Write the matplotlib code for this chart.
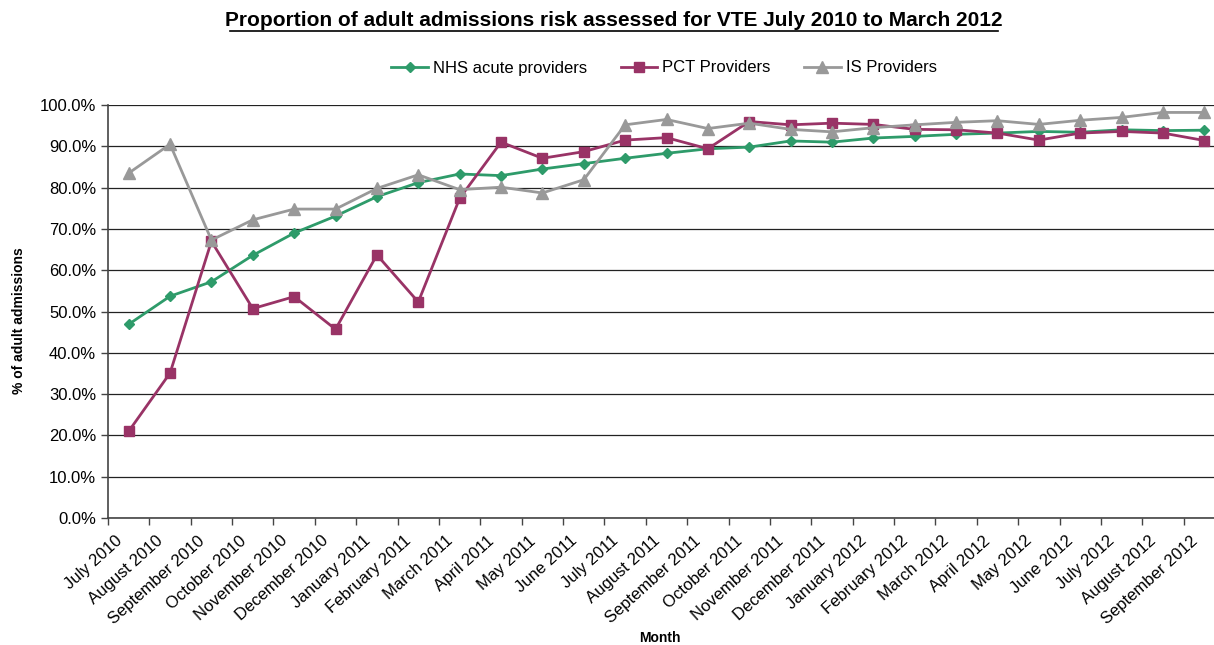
import matplotlib.pyplot as plt
from matplotlib.transforms import ScaledTranslation
import numpy as np

months = ['July 2010', 'August 2010', 'September 2010', 'October 2010', 'November 2010',
          'December 2010', 'January 2011', 'February 2011', 'March 2011', 'April 2011',
          'May 2011', 'June 2011', 'July 2011', 'August 2011', 'September 2011',
          'October 2011', 'November 2011', 'December 2011', 'January 2012', 'February 2012',
          'March 2012', 'April 2012', 'May 2012', 'June 2012', 'July 2012',
          'August 2012', 'September 2012']

nhs_acute = [46.9, 53.7, 57.2, 63.6, 69.0, 73.1, 77.8, 81.2, 83.3, 82.9,
             84.5, 85.8, 87.1, 88.3, 89.4, 89.8, 91.3, 91.0, 92.0, 92.4,
             92.9, 93.2, 93.6, 93.4, 94.0, 93.8, 93.9]
pct = [21.0, 35.1, 67.0, 50.7, 53.6, 45.7, 63.7, 52.3, 77.4, 91.0,
       87.1, 88.7, 91.5, 92.1, 89.4, 96.0, 95.2, 95.6, 95.3, 94.1,
       94.0, 93.2, 91.5, 93.2, 93.6, 93.2, 91.4]
is_prov = [83.5, 90.5, 67.3, 72.2, 74.8, 74.8, 79.8, 83.1, 79.5, 80.1,
           78.7, 81.9, 95.2, 96.5, 94.3, 95.6, 94.1, 93.5, 94.5, 95.2,
           95.8, 96.2, 95.3, 96.3, 97.0, 98.2, 98.2]

plt.rcParams['font.family'] = ['Liberation Sans', 'DejaVu Sans']

fig = plt.figure(figsize=(12.14, 6.45), dpi=100)
ax = fig.add_axes([108 / 1214, 127 / 645, 1117 / 1214, 413 / 645])

x = np.arange(len(months))
ax.plot(x, nhs_acute, color='#2E9B6A', lw=2, marker='D', ms=5.5, label='NHS acute providers')
ax.plot(x, pct, color='#993366', lw=2, marker='s', ms=7, label='PCT Providers')
ax.plot(x, is_prov, color='#999999', lw=2, marker='^', ms=8, label='IS Providers')

ax.set_xlim(-0.5, len(months) - 0.5)
ax.set_ylim(0, 100)
ax.set_yticks(np.arange(0, 101, 10))
ax.set_yticklabels([f'{v:.1f}%' for v in np.arange(0, 101, 10)], fontsize=12)
ax.yaxis.grid(True, color='#222222', lw=0.9)
ax.set_axisbelow(True)

ax.set_xticks(x)
ax.set_xticklabels(months, rotation=42, ha='right', va='top', rotation_mode='anchor', fontsize=12)
ax.tick_params(axis='x', which='major', length=0, pad=8)
shift = ScaledTranslation(-14 / 100, -4 / 100, fig.dpi_scale_trans)
for lab in ax.get_xticklabels():
    lab.set_transform(lab.get_transform() + shift)
ax.set_xticks(np.arange(-0.5, len(months), 1), minor=True)
ax.tick_params(axis='x', which='minor', length=5, width=1, color='#444444', direction='out')
ax.tick_params(axis='y', length=5, width=1, color='#444444', direction='out')

for s in ['top', 'right']:
    ax.spines[s].set_visible(False)
for s in ['left', 'bottom']:
    ax.spines[s].set_color('#444444')
    ax.spines[s].set_linewidth(1.2)

fig.text(19 / 1214, 1 - 321 / 645, '% of adult admissions', rotation=90,
         ha='center', va='center', fontsize=10, fontweight='bold')
fig.text(660 / 1214, 1 - 638 / 645, 'Month', ha='center', va='center', fontsize=10, fontweight='bold')
fig.text(614 / 1214, 1 - 21 / 645,
         'Proportion of adult admissions risk assessed for VTE July 2010 to March 2012',
         ha='center', va='center', fontsize=15, fontweight='bold')
fig.add_artist(plt.Line2D([230 / 1214, 998 / 1214], [1 - 31 / 645, 1 - 31 / 645], color='black', lw=1.2))

ax.legend(loc='center', bbox_to_anchor=(664 / 1214, 1 - 68 / 645), bbox_transform=fig.transFigure,
          ncol=3, frameon=False, fontsize=12, handlelength=2.2, columnspacing=2.0, handletextpad=0.3)

fig.savefig('out.png', dpi=100)
